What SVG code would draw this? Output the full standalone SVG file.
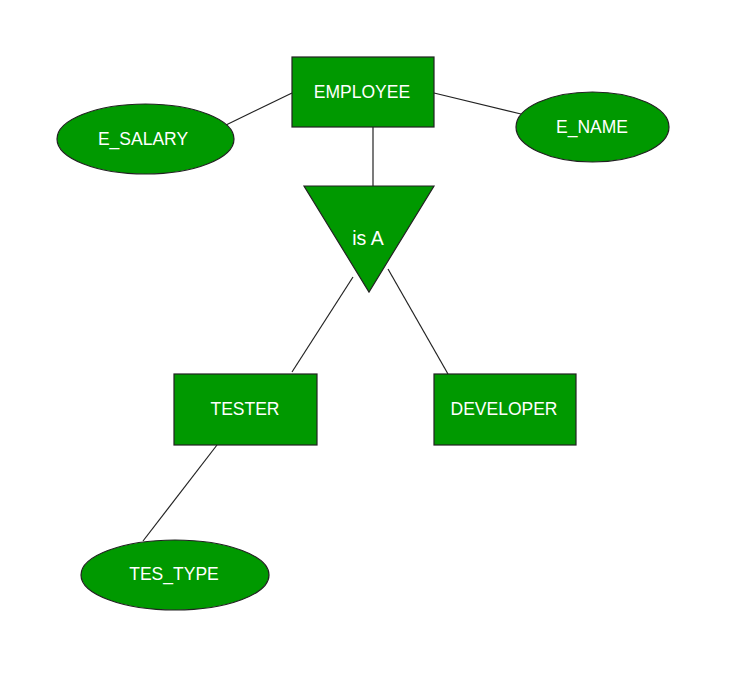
<svg xmlns="http://www.w3.org/2000/svg" width="747" height="676" viewBox="0 0 747 676">
<style>
.shape{fill:#009900;stroke:#222;stroke-width:1.2}
.lbl{fill:#fff;font-family:"Liberation Sans",Arial,sans-serif;font-size:17.5px;text-anchor:middle;dominant-baseline:central}
.conn line{stroke:#222;stroke-width:1.2}
</style>
<rect width="747" height="676" fill="#fff"/>
<g class="conn">
<line x1="373" y1="127" x2="373" y2="186"/>
<line x1="226" y1="125" x2="292" y2="93"/>
<line x1="521" y1="114" x2="434" y2="93"/>
<line x1="353" y1="277" x2="292" y2="372"/>
<line x1="388" y1="269" x2="448" y2="374"/>
<line x1="217" y1="445" x2="143" y2="541"/>
</g>
<g id="employee"><rect class="shape" x="292" y="57" width="142" height="70"/><text class="lbl" x="362" y="92">EMPLOYEE</text></g>
<g id="e_salary"><ellipse class="shape" cx="145.5" cy="139" rx="88.5" ry="35"/><text class="lbl" x="143" y="139">E_SALARY</text></g>
<g id="e_name"><ellipse class="shape" cx="592.5" cy="127" rx="76.5" ry="35"/><text class="lbl" x="592" y="127">E_NAME</text></g>
<g id="isa"><polygon class="shape" points="304,186 434,186 369,292"/><text class="lbl" x="368" y="238" style="font-size:19.5px">is A</text></g>
<g id="tester"><rect class="shape" x="174" y="374" width="143" height="71"/><text class="lbl" x="245" y="409">TESTER</text></g>
<g id="developer"><rect class="shape" x="434" y="374" width="142" height="71"/><text class="lbl" x="504" y="409">DEVELOPER</text></g>
<g id="tes_type"><ellipse class="shape" cx="175" cy="575" rx="94" ry="35"/><text class="lbl" x="174" y="574">TES_TYPE</text></g>
</svg>
